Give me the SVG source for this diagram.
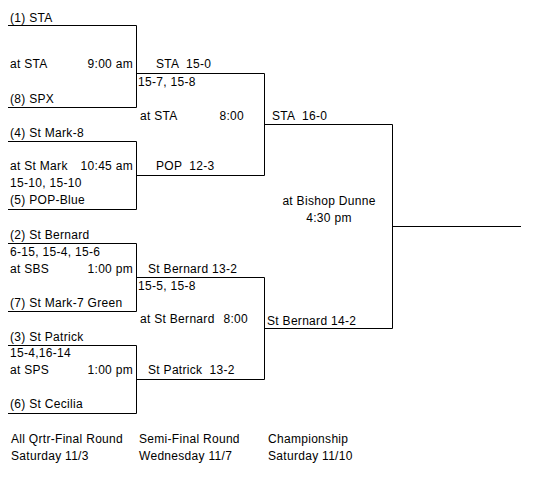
<svg xmlns="http://www.w3.org/2000/svg" width="534" height="477" viewBox="0 0 534 477" xml:space="preserve">
<style>
text{font-family:"Liberation Sans",Arial,sans-serif;font-size:12px;letter-spacing:0.3px;fill:#000;white-space:pre}
.e{text-anchor:end}
.m{text-anchor:middle}
.c{fill:none;stroke:#000;stroke-width:1}
</style>
<rect width="534" height="477" fill="#fff"/>
<g id="connectors">
<polyline class="c" points="8,25.5 136.5,25.5 136.5,107.5 8,107.5"/>
<polyline class="c" points="8,141.5 136.5,141.5 136.5,209.5 8,209.5"/>
<polyline class="c" points="8,243.5 136.5,243.5 136.5,311.5 8,311.5"/>
<polyline class="c" points="8,345.5 136.5,345.5 136.5,413.5 8,413.5"/>
<polyline class="c" points="136.5,73.5 264.5,73.5 264.5,175.5 136.5,175.5"/>
<polyline class="c" points="136.5,277.5 264.5,277.5 264.5,379.5 136.5,379.5"/>
<polyline class="c" points="264.5,124.5 392.5,124.5 392.5,328.5 264.5,328.5"/>
<line class="c" x1="392.5" y1="226.5" x2="521" y2="226.5"/>
</g>
<g id="qf1">
<text x="10" y="22">(1) STA</text>
<text x="10" y="68">at STA</text>
<text class="e" x="133" y="68">9:00 am</text>
<text x="10" y="103">(8) SPX</text>
</g>
<g id="qf2">
<text x="10" y="137">(4) St Mark-8</text>
<text x="10" y="170">at St Mark</text>
<text class="e" x="133" y="170">10:45 am</text>
<text x="10" y="187">15-10, 15-10</text>
<text x="10" y="204">(5) POP-Blue</text>
</g>
<g id="qf3">
<text x="10" y="239">(2) St Bernard</text>
<text x="10" y="256">6-15, 15-4, 15-6</text>
<text x="10" y="273">at SBS</text>
<text class="e" x="133" y="273">1:00 pm</text>
<text x="10" y="307">(7) St Mark-7 Green</text>
</g>
<g id="qf4">
<text x="10" y="341">(3) St Patrick</text>
<text x="10" y="357">15-4,16-14</text>
<text x="10" y="374">at SPS</text>
<text class="e" x="133" y="374">1:00 pm</text>
<text x="10" y="408">(6) St Cecilia</text>
</g>
<g id="sf1">
<text x="156" y="68">STA  15-0</text>
<text x="138" y="86">15-7, 15-8</text>
<text x="140" y="120">at STA</text>
<text class="e" x="244" y="120">8:00</text>
<text x="156" y="170">POP  12-3</text>
</g>
<g id="sf2">
<text x="148" y="273">St Bernard 13-2</text>
<text x="138" y="290">15-5, 15-8</text>
<text x="140" y="323">at St Bernard</text>
<text class="e" x="248" y="323">8:00</text>
<text x="148" y="374">St Patrick  13-2</text>
</g>
<g id="final">
<text x="272" y="120">STA  16-0</text>
<text class="m" x="329" y="205">at Bishop Dunne</text>
<text class="m" x="329" y="222">4:30 pm</text>
<text x="267" y="325">St Bernard 14-2</text>
</g>
<g id="labels">
<text x="11" y="443">All Qrtr-Final Round</text>
<text x="11" y="460">Saturday 11/3</text>
<text x="139" y="443">Semi-Final Round</text>
<text x="139" y="460">Wednesday 11/7</text>
<text x="268" y="443">Championship</text>
<text x="268" y="460">Saturday 11/10</text>
</g>
</svg>
